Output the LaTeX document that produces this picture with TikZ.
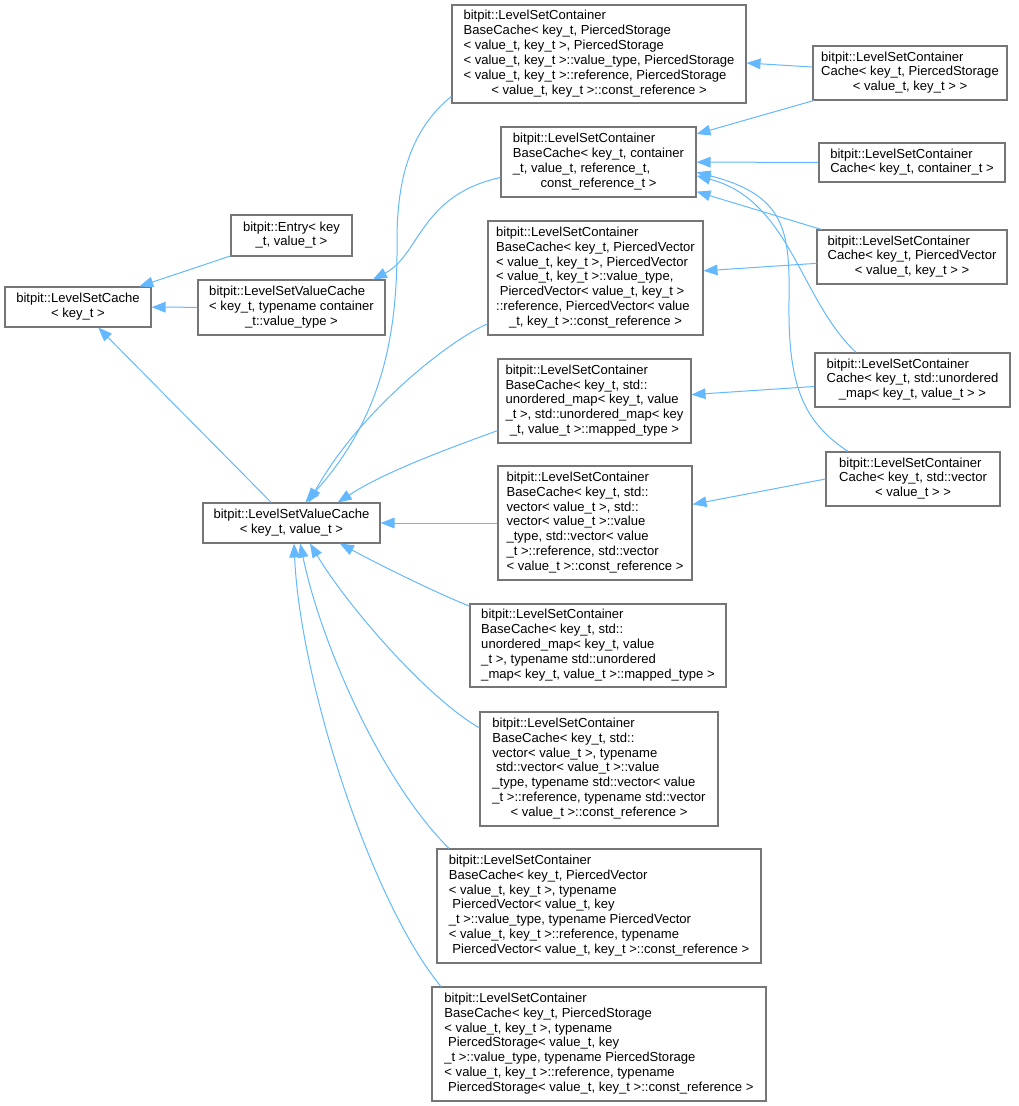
\documentclass[tikz,border=0pt]{standalone}
\usepackage{fontspec}
\setmainfont{Liberation Sans}
\usetikzlibrary{arrows.meta}
\definecolor{edgeblue}{HTML}{63B8FF}
\definecolor{boxgray}{HTML}{767676}
\newcommand{\lbl}[1]{\begin{tabular}{@{}l@{}}#1\end{tabular}}
\newcommand{\lastrow}[1]{\multicolumn{1}{@{}c@{}}{#1}}
\tikzset{
    cls/.style 2 args={draw=boxgray, line width=0.8pt, fill=white, inner sep=0pt,
        minimum width=#1*0.75pt, minimum height=#2*0.75pt,
        font=\fontsize{9.8}{11.2}\selectfont},
    inh/.style={draw=edgeblue, line width=0.75pt, -{Triangle[length=10.5pt, width=8pt]}}
}

\begin{document}
\begin{tikzpicture}[x=0.75pt, y=-0.75pt]
    \useasboundingbox (0,0) rectangle (1019,1106);

    % base classes
    \node[cls={146}{40}] (LSC) at (78,307) {\lbl{bitpit::LevelSetCache\\ \lastrow{< key\_t >}}};
    \node[cls={121}{41}] (Entry) at (291.5,235.5) {\lbl{bitpit::Entry< key\\ \lastrow{\_t, value\_t >}}};
    \node[cls={187}{55}] (LSVCc) at (291.5,307.5) {\lbl{bitpit::LevelSetValueCache\\ < key\_t, typename container\\ \lastrow{\_t::value\_type >}}};
    \node[cls={177}{40}] (LSVC) at (291.5,523) {\lbl{bitpit::LevelSetValueCache\\ \lastrow{< key\_t, value\_t >}}};

    % base caches
    \node[cls={294}{98}] (BCps) at (599,54) {\lbl{bitpit::LevelSetContainer\\ BaseCache< key\_t, PiercedStorage\\ < value\_t, key\_t >, PiercedStorage\\ < value\_t, key\_t >::value\_type, PiercedStorage\\ < value\_t, key\_t >::reference, PiercedStorage\\ \lastrow{< value\_t, key\_t >::const\_reference >}}};
    \node[cls={195}{70}] (BCgen) at (598.5,162) {\lbl{bitpit::LevelSetContainer\\ BaseCache< key\_t, container\\ \_t, value\_t, reference\_t,\\ \lastrow{const\_reference\_t >}}};
    \node[cls={215}{114}] (BCpv) at (595.5,278) {\lbl{bitpit::LevelSetContainer\\ BaseCache< key\_t, PiercedVector\\ < value\_t, key\_t >, PiercedVector\\ < value\_t, key\_t >::value\_type,\\ \ PiercedVector< value\_t, key\_t >\\ ::reference, PiercedVector< value\\ \lastrow{\_t, key\_t >::const\_reference >}}};
    \node[cls={193}{84}] (BCum) at (594.5,401) {\lbl{bitpit::LevelSetContainer\\ BaseCache< key\_t, std::\\ unordered\_map< key\_t, value\\ \_t >, std::unordered\_map< key\\ \lastrow{\_t, value\_t >::mapped\_type >}}};
    \node[cls={194}{114}] (BCv) at (595,523) {\lbl{bitpit::LevelSetContainer\\ BaseCache< key\_t, std::\\ vector< value\_t >, std::\\ vector< value\_t >::value\\ \_type, std::vector< value\\ \_t >::reference, std::vector\\ \lastrow{< value\_t >::const\_reference >}}};
    \node[cls={256}{83}] (BCumt) at (598,645.5) {\lbl{bitpit::LevelSetContainer\\ BaseCache< key\_t, std::\\ unordered\_map< key\_t, value\\ \_t >, typename std::unordered\\ \lastrow{\_map< key\_t, value\_t >::mapped\_type >}}};
    \node[cls={238}{114}] (BCvt) at (599,769) {\lbl{bitpit::LevelSetContainer\\ BaseCache< key\_t, std::\\ vector< value\_t >, typename\\ \ std::vector< value\_t >::value\\ \_type, typename std::vector< value\\ \_t >::reference, typename std::vector\\ \lastrow{< value\_t >::const\_reference >}}};
    \node[cls={324}{114}] (BCpvt) at (599,906) {\lbl{bitpit::LevelSetContainer\\ BaseCache< key\_t, PiercedVector\\ < value\_t, key\_t >, typename\\ \ PiercedVector< value\_t, key\\ \_t >::value\_type, typename PiercedVector\\ < value\_t, key\_t >::reference, typename\\ \lastrow{\ PiercedVector< value\_t, key\_t >::const\_reference >}}};
    \node[cls={334}{114}] (BCpst) at (599,1044) {\lbl{bitpit::LevelSetContainer\\ BaseCache< key\_t, PiercedStorage\\ < value\_t, key\_t >, typename\\ \ PiercedStorage< value\_t, key\\ \_t >::value\_type, typename PiercedStorage\\ < value\_t, key\_t >::reference, typename\\ \lastrow{\ PiercedStorage< value\_t, key\_t >::const\_reference >}}};

    % caches
    \node[cls={194}{54}] (Cps) at (910,73) {\lbl{bitpit::LevelSetContainer\\ Cache< key\_t, PiercedStorage\\ \lastrow{< value\_t, key\_t > >}}};
    \node[cls={186}{39}] (Ccont) at (912,162.5) {\lbl{bitpit::LevelSetContainer\\ \lastrow{Cache< key\_t, container\_t >}}};
    \node[cls={190}{54}] (Cpv) at (912,257) {\lbl{bitpit::LevelSetContainer\\ Cache< key\_t, PiercedVector\\ \lastrow{< value\_t, key\_t > >}}};
    \node[cls={195}{54}] (Cum) at (912.5,380) {\lbl{bitpit::LevelSetContainer\\ Cache< key\_t, std::unordered\\ \lastrow{\_map< key\_t, value\_t > >}}};
    \node[cls={174}{54}] (Cv) at (913,479) {\lbl{bitpit::LevelSetContainer\\ Cache< key\_t, std::vector\\ \lastrow{< value\_t > >}}};

    % left part
    \draw[inh] (Entry) -- (LSC);
    \draw[inh] (LSVCc) -- (LSC);
    \draw[inh] (LSVC) -- (LSC);
    \draw[inh] (BCgen.189.9) .. controls (420,195) and (420,255) .. (LSVCc.19.8);

    % into LevelSetValueCache< key_t, value_t >
    \draw[inh] (BCps.196.7) .. controls (410,130) and (397,180) .. (397,240)
        .. controls (398,340) and (380,420) .. (LSVC.56);
    \draw[inh] (BCpv.203.6) .. controls (450,340) and (360,410) .. (LSVC.50.5);
    \draw[inh] (BCum.197.8) .. controls (430,455) and (380,475) .. (LSVC.24.7);
    \draw[inh] (BCv) -- (LSVC);
    \draw[inh] (BCumt.163.3) .. controls (430,590) and (380,565) .. (LSVC.337.6);
    \draw[inh] (BCvt.161) .. controls (430,700) and (350,610) .. (LSVC.312.8);
    \draw[inh] (BCpvt.159.7) .. controls (380,780) and (320,640) .. (LSVC.293);
    \draw[inh] (BCpst.160.3) .. controls (370,900) and (300,680) .. (LSVC.277);

    % right part
    \draw[inh] (Cps) -- (BCps);
    \draw[inh] (Cps) -- (BCgen);
    \draw[inh] (Ccont) -- (BCgen);
    \draw[inh] (Cpv) -- (BCgen);
    \draw[inh] (Cpv) -- (BCpv);
    \draw[inh] (Cum.154) .. controls (800,300) and (790,200) .. (BCgen.352.4);
    \draw[inh] (Cv.157.4) .. controls (800,420) and (788,380) .. (789,300)
        .. controls (790,230) and (785,195) .. (BCgen.354.1);
    \draw[inh] (Cum) -- (BCum);
    \draw[inh] (Cv.west) -- (BCv);
\end{tikzpicture}
\end{document}
